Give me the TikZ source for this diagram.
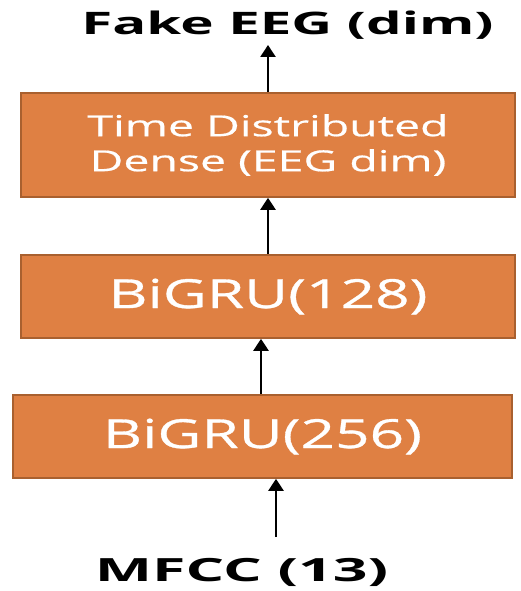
\documentclass[tikz,border=0pt]{standalone}
\usepackage{fontspec}
\setmainfont{Open Sans}
\newfontfamily\outfont[FakeStretch=1.82]{Open Sans}
\newfontfamily\infont[FakeStretch=1.9]{Open Sans}
\newfontfamily\densefont[FakeStretch=1.6, FakeBold=0.6]{Open Sans}
\newfontfamily\grufont[FakeStretch=1.51, FakeBold=0.8]{Open Sans}
\usetikzlibrary{arrows.meta}

\definecolor{layerfill}{HTML}{DF8043}
\definecolor{layerdraw}{HTML}{A9602F}

\tikzset{
	layer/.style={draw=layerdraw, fill=layerfill, line width=1.6pt, text=white, inner sep=0pt, align=center},
	flow/.style={-{Triangle[width=15pt,length=12pt]}, line width=2.4pt},
}

\begin{document}
\begin{tikzpicture}[x=1pt, y=-1pt]
			\useasboundingbox (0, 0) rectangle (521, 591);
			%%
			\node[font=\outfont\bfseries\fontsize{31}{33}\selectfont] (out) at (287.5, 25) {Fake EEG (dim)};
			\node[font=\infont\bfseries\fontsize{32}{34}\selectfont] (mfcc) at (241.5, 572) {MFCC (13)};
			%%
			\node[layer, minimum width=494pt, minimum height=104pt, font=\densefont\fontsize{29}{35}\selectfont] (dense) at (268, 145) {Time Distributed\\Dense (EEG dim)};
			\node[layer, minimum width=494pt, minimum height=83pt, font=\grufont\fontsize{40}{42}\selectfont] (gru2) at (268, 296.5) {BiGRU(128)};
			\node[layer, minimum width=499pt, minimum height=83pt, font=\grufont\fontsize{40}{42}\selectfont] (gru1) at (262.5, 436.5) {BiGRU(256)};
			%%
			\coordinate (outtip) at (268, 45);
			\coordinate (mfcctail) at (276, 537);
			\draw[flow] (dense.north -| outtip) -- (outtip);
			\draw[flow] (gru2.north -| outtip) -- (dense.south -| outtip);
			\draw[flow] (gru1.north -| 261, 0) -- (gru2.south -| 261, 0);
			\draw[flow] (mfcctail) -- (gru1.south -| mfcctail);
		\end{tikzpicture}
\end{document}
